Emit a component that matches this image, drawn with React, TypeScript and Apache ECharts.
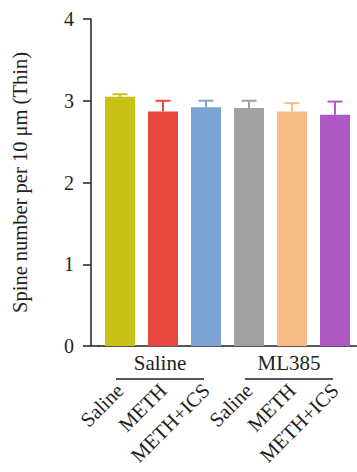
import React, { useEffect, useRef } from "react";
import * as echarts from "echarts";

const categories = ["Saline", "METH", "METH+ICS", "Saline", "METH", "METH+ICS"];
const groupNames = ["Saline", "ML385"];
const groupMembers = [[0, 1, 2], [3, 4, 5]];
const means = [3.05, 2.87, 2.92, 2.91, 2.87, 2.83];
const errorTops = [3.08, 3.0, 3.0, 3.0, 2.97, 2.99];
const barColors = ["#C8C217", "#E8473F", "#7BA3D5", "#A2A1A2", "#F6BE84", "#B058C3"];
const yTicks = [0, 1, 2, 3, 4];

const FONT = "Liberation Serif";
const TEXT = "#231F20";

export default function App() {
  const ref = useRef<HTMLDivElement>(null);
  useEffect(() => {
    if (!ref.current) return;
    const chart = echarts.init(ref.current, null, { renderer: "svg" });
    const gridLeft = 98.5;
    const yOffset = 7.5;
    chart.setOption({
      animation: false,
      grid: { left: gridLeft, right: 0.5, top: 19, bottom: 126, outerBoundsMode: "none", containLabel: false },
      xAxis: {
        type: "category",
        data: categories,
        axisLine: { show: true, lineStyle: { color: TEXT, width: 1.5 } },
        axisTick: { show: false },
        axisLabel: {
          interval: 0,
          rotate: 45,
          margin: 41,
          fontFamily: FONT,
          fontSize: 20.5,
          color: TEXT,
        },
      },
      yAxis: {
        type: "value",
        min: yTicks[0],
        max: yTicks[yTicks.length - 1],
        interval: 1,
        offset: yOffset,
        name: "Spine number per 10 μm (Thin)",
        nameLocation: "middle",
        nameGap: 61,
        nameTextStyle: { fontFamily: FONT, fontSize: 20.5, color: TEXT },
        axisLine: { show: true, lineStyle: { color: TEXT, width: 1.5 } },
        axisTick: { show: true, length: 8, lineStyle: { color: TEXT, width: 1.5 } },
        axisLabel: { fontFamily: FONT, fontSize: 20, color: TEXT, margin: 17 },
        splitLine: { show: false },
      },
      series: [
        {
          type: "bar",
          barWidth: 30,
          data: means.map((v, i) => ({ value: v, itemStyle: { color: barColors[i] } })),
        },
        {
          type: "custom",
          data: means.map((v, i) => [i, v, errorTops[i]]),
          encode: { x: 0, y: [1, 2] },
          z: 1,
          renderItem: (params: any, api: any) => {
            const i = api.value(0);
            const base = api.coord([i, api.value(1)]);
            const top = api.coord([i, api.value(2)]);
            const c = barColors[params.dataIndex];
            const half = 7.5;
            return {
              type: "group",
              children: [
                {
                  type: "line",
                  shape: { x1: base[0], y1: base[1], x2: top[0], y2: top[1] },
                  style: { stroke: c, lineWidth: 2 },
                },
                {
                  type: "line",
                  shape: { x1: top[0] - half, y1: top[1], x2: top[0] + half, y2: top[1] },
                  style: { stroke: c, lineWidth: 2 },
                },
              ],
            };
          },
        },
      ],
    });

    const axisX = gridLeft - yOffset;
    const axisY = chart.convertToPixel({ yAxisIndex: 0 }, 0) as number;
    const graphics: any[] = [
      {
        type: "line",
        shape: { x1: axisX, y1: axisY, x2: gridLeft + 1, y2: axisY },
        style: { stroke: TEXT, lineWidth: 1.5 },
      },
    ];
    groupMembers.forEach((members, g) => {
      const first = chart.convertToPixel({ xAxisIndex: 0 }, members[0]) as number;
      const last = chart.convertToPixel({ xAxisIndex: 0 }, members[members.length - 1]) as number;
      const center = (first + last) / 2 - 3;
      graphics.push({
        type: "text",
        x: center,
        y: axisY + 17,
        style: {
          text: groupNames[g],
          fontFamily: FONT,
          fontSize: 21,
          fill: TEXT,
          textAlign: "center",
          textVerticalAlign: "middle",
        },
      });
      graphics.push({
        type: "line",
        shape: { x1: center - 44, y1: axisY + 33, x2: center + 44, y2: axisY + 33 },
        style: { stroke: TEXT, lineWidth: 1.5 },
      });
    });
    chart.setOption({ graphic: graphics });
    return () => chart.dispose();
  }, []);
  return <div ref={ref} style={{ width: 357, height: 472, position: "absolute", left: 0, top: 0 }} />;
}
